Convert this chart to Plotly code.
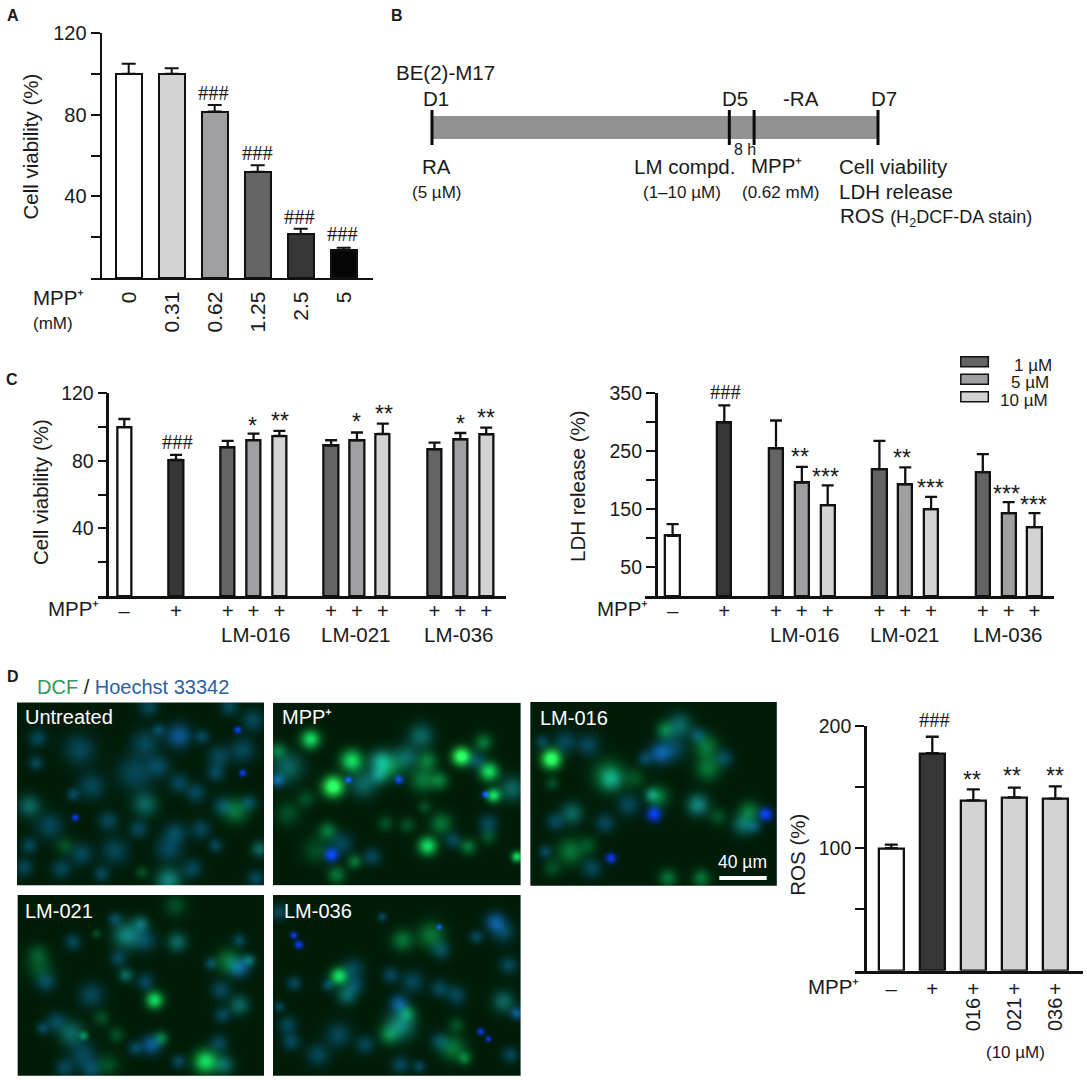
import numpy as np
import plotly.graph_objects as go

W, H = 1087, 1080
FONT = "Liberation Sans"
INK = "#1a1a1a"

# ---------- data ----------
a_labels = ["0", "0.31", "0.62", "1.25", "2.5", "5"]
a_values = [100, 100, 81.5, 52, 21.5, 13.5]
a_errors = [5, 2.7, 3.2, 3.2, 2.6, 1.3]
a_colors = ["#ffffff", "#d3d3d3", "#9f9fa2", "#646464", "#363636", "#050505"]

c_labels = ["–", "+", "+", "+", "+", "+", "+", "+", "+", "+", "+"]
via_values = [100, 80.5, 88, 92.3, 94.8, 89, 92.2, 96, 86.8, 92.7, 95.7]
via_errors = [4.8, 3, 3.8, 3.8, 3, 3.2, 4.6, 6, 4, 3.8, 4]
ldh_values = [104, 300, 255, 196, 157, 219, 193, 150, 214, 143, 119]
ldh_errors = [20, 29, 48, 27, 34, 49, 29, 21, 31, 19, 24]
c_colors = ["#ffffff", "#363636"] + ["#646464", "#9f9fa2", "#d3d3d3"] * 3

ros_labels = ["–", "+", "+", "+", "+"]
ros_values = [100, 177.5, 139, 141.5, 140.5]
ros_errors = [3, 13.5, 9, 8, 10]
ros_colors = ["#ffffff", "#363636", "#d3d3d3", "#d3d3d3", "#d3d3d3"]
ros_compounds = ["016", "021", "036"]

legend_labels = ["1 µM", "5 µM", "10 µM"]
legend_colors = ["#646464", "#9f9fa2", "#d3d3d3"]

timeline_days = [1, 7]
timeline_marks = [1, 5, 5 + 1 / 3, 7]

# micrograph spots: (x, y, radius, kind)
blobs_untreated = [
    (530,228,28,'b+'),(430,250,30,'b'),(235,270,35,'b'),(110,235,20,'b'),(470,210,14,'b'),(600,230,16,'b'),
    (705,210,10,'B'),(720,270,28,'b'),(650,290,25,'b'),(720,340,10,'B'),(640,340,20,'b'),(105,310,16,'b'),
    (400,340,40,'b'),(470,320,25,'b'),(530,370,22,'b'),(270,380,30,'b'),(215,405,14,'b'),(580,400,22,'b'),
    (430,435,28,'t'),(660,440,22,'b'),(700,455,28,'m'),(740,430,18,'b'),(85,440,25,'t'),(222,475,10,'B'),
    (320,485,22,'b'),(145,500,30,'b'),(410,510,20,'b'),(520,520,25,'b'),(595,510,22,'b'),(500,570,30,'b'),
    (640,560,15,'b'),(770,570,18,'t'),(340,575,30,'b'),(240,585,25,'b'),(190,560,20,'dm'),(85,560,18,'b'),
    (70,625,20,'b'),(180,630,22,'b'),(300,645,18,'b'),(420,640,14,'dm'),(500,665,28,'t+'),(570,630,22,'b'),
    (760,660,20,'b'),(440,140,22,'b'),(680,140,20,'b'),(750,180,25,'b'),
]
blobs_mpp = [
    (918,235,24,'g'),(1245,225,28,'t'),(1430,245,20,'m'),(1365,287,26,'G'),(1040,300,28,'g'),(1125,300,25,'t+'),
    (1150,320,30,'m'),(1200,290,28,'t'),(1265,300,22,'m'),(1410,300,20,'b'),(1447,333,24,'g'),(985,378,30,'G'),
    (1030,358,10,'B'),(1180,358,12,'B'),(1075,370,30,'t'),(1250,358,28,'m'),(1300,360,20,'m'),(1120,345,20,'t'),
    (1515,385,28,'t'),(1460,405,18,'g'),(1435,402,10,'B'),(820,270,18,'m'),(850,320,35,'t'),(820,360,15,'b+'),
    (905,415,20,'dm'),(850,460,28,'dm'),(968,512,20,'m'),(935,570,30,'dm'),(980,585,20,'B'),(995,645,20,'m'),
    (1048,605,16,'m'),(1265,558,24,'g'),(1305,490,24,'m'),(1205,495,18,'dm'),(1140,490,18,'dm'),(1255,440,15,'dm'),
    (1385,560,18,'m'),(1445,530,18,'dm'),(1445,490,22,'b'),(1530,590,14,'g'),(1010,550,25,'b'),(1100,590,20,'b'),
    (1340,540,18,'b'),
]
blobs_016 = [
    (78,192,28,'G'),(80,265,15,'dm'),(250,240,35,'m'),(260,255,25,'t'),(405,175,24,'b+'),(465,90,28,'t'),
    (420,105,20,'m'),(445,160,30,'b'),(545,155,28,'m'),(550,220,28,'m'),(600,190,20,'b'),(400,305,25,'m'),
    (380,300,15,'t'),(388,358,22,'B'),(520,330,25,'t+'),(580,365,20,'dm'),(675,350,24,'m'),(655,390,24,'t'),
    (725,358,20,'B'),(690,395,16,'b'),(140,355,25,'t'),(90,380,20,'b'),(240,385,22,'b'),(135,470,30,'m'),
    (190,450,20,'dm'),(258,490,15,'B'),(200,520,22,'b'),(60,470,15,'b'),(80,520,20,'dm'),(430,550,20,'m'),
    (530,550,20,'m'),(310,330,25,'b'),(330,250,24,'dm'),(120,140,25,'b'),(190,150,25,'b'),(50,140,15,'b'),
    (360,190,16,'b'),(520,120,18,'b'),
]
blobs_021 = [
    (375,150,30,'t+'),(418,115,18,'t'),(430,165,25,'b'),(525,170,22,'t'),(110,205,22,'dm'),(115,245,30,'dm'),
    (135,290,22,'b'),(215,170,18,'b'),(678,228,28,'m'),(710,248,22,'b+'),(740,225,14,'t'),(625,235,14,'b'),
    (710,165,15,'b'),(458,345,22,'g'),(372,270,16,'t'),(270,330,28,'b'),(350,220,18,'b'),(430,290,20,'b'),
    (655,315,22,'b'),(710,360,22,'t'),(660,390,18,'b'),(300,400,18,'dm'),(165,410,22,'b'),(125,430,14,'b'),
    (210,445,28,'t'),(248,452,10,'m'),(345,450,18,'dm'),(448,480,22,'b+'),(478,460,16,'m'),(400,490,16,'b'),
    (245,510,30,'b'),(320,540,25,'dm'),(190,550,20,'b'),(270,555,22,'b'),(610,530,30,'g'),(665,540,22,'t'),
    (650,475,20,'b'),(530,530,16,'b'),(520,60,25,'dm'),(340,100,15,'b'),(285,145,10,'dm'),
]
blobs_036 = [
    (868,150,10,'B'),(883,178,12,'B'),(1002,273,22,'g'),(1190,165,24,'m'),(1275,150,30,'m'),(1300,125,8,'B'),
    (1305,195,20,'b'),(1465,110,22,'b+'),(1490,140,25,'b'),(1410,155,15,'b'),(1045,250,24,'b'),(1050,300,20,'b'),
    (1025,330,22,'t'),(970,300,14,'b'),(870,295,16,'b'),(1155,270,18,'b'),(1220,290,25,'b'),(1180,355,20,'b+'),
    (1300,310,20,'b'),(1350,330,22,'b'),(1490,350,25,'t'),(1530,385,14,'b+'),(1505,240,20,'b'),(825,365,12,'b'),
    (1185,420,32,'t+'),(1150,450,22,'m'),(1205,385,18,'m'),(1350,420,18,'dm'),(1422,440,10,'B'),(1445,462,8,'B'),
    (1340,490,28,'m'),(1375,520,15,'m'),(1300,470,20,'b'),(1000,450,28,'b'),(1080,480,20,'b'),(850,420,20,'b'),
    (940,510,25,'b'),(860,470,20,'b'),(1185,540,20,'b'),(1240,545,14,'b'),(1510,510,18,'b'),(1130,95,10,'b'),
    (825,80,18,'b'),
]
blob_rgb = {
    'b': (6, 42, 78), 'b+': (12, 58, 135), 'B': (10, 30, 240), 't': (12, 72, 85), 't+': (18, 100, 112),
    'm': (8, 85, 44), 'dm': (4, 48, 26), 'g': (20, 190, 85), 'G': (45, 255, 95),
}
blob_spread = {'B': 0.7, 'g': 0.8, 'G': 0.72}

# ---------- helpers ----------
fx = lambda p: p / W
fy = lambda p: 1 - (p - 11) / 1069
fig = go.Figure()
annotations, shapes = [], []
layout = {}


def text(px, py, s, size=20.5, anchor="center", color=INK, family=FONT, angle=0):
    annotations.append(dict(x=fx(px), y=fy(py), xref="paper", yref="paper", text=s, showarrow=False,
                            xanchor=anchor, yanchor="middle", textangle=angle,
                            font=dict(size=size, color=color, family=family),
                            borderpad=0, borderwidth=0, align="left"))


def bar_panel(n, slots, values, errors, colors, x0, step, left, right, spine, top, bottom, ymax, major, minor,
              labels, barw, cap, lw=2.3, tick_size=19.5, label_kw=None):
    xa, ya = f"xaxis{n}", f"yaxis{n}"
    fig.add_trace(go.Bar(x=slots, y=values, width=barw, xaxis=f"x{n}", yaxis=f"y{n}",
                         marker=dict(color=colors, line=dict(color="#111111", width=lw)),
                         error_y=dict(type="data", symmetric=False, array=errors, arrayminus=[0] * len(errors),
                                      color="#111111", thickness=lw, width=cap)))
    layout[xa] = dict(domain=[fx(left), fx(right)], anchor=f"y{n}", range=[(left - x0) / step, (right - x0) / step],
                      showgrid=False, zeroline=False, showline=True, linecolor="#111111", linewidth=lw + 0.3,
                      ticks="", tickmode="array", tickvals=slots, ticktext=labels,
                      tickfont=dict(family=FONT, size=tick_size + 1, color=INK), **(label_kw or {}))
    layout[ya] = dict(domain=[fy(bottom), fy(top)], anchor="free", position=fx(spine), range=[0, ymax],
                      showgrid=False, zeroline=False, showline=True, linecolor="#111111", linewidth=lw + 0.3,
                      ticks="outside", ticklen=9, tickwidth=lw, tickcolor="#111111", tickmode="array",
                      tickvals=major, ticktext=[str(t) for t in major],
                      minor=dict(tickmode="array", tickvals=minor, ticks="outside", ticklen=9, tickwidth=lw,
                                 tickcolor="#111111", showgrid=False),
                      tickfont=dict(family=FONT, size=tick_size, color=INK))


def photo(n, blobs, zx0, zx1, zy0, zy1, left, right, top, bottom):
    w, h = int(round(right - left)), int(round(bottom - top))
    X, Y = np.meshgrid(np.linspace(zx0, zx1, w), np.linspace(zy0, zy1, h))
    img = np.zeros((h, w, 3)) + np.array([0, 28, 8], float)
    for bx, by, r, kind in blobs:
        s = blob_spread.get(kind, 0.92) * r
        g = np.exp(-((X - bx) ** 2 + (Y - by) ** 2) / (2 * s ** 2))
        img += g[..., None] * np.array(blob_rgb[kind], float)
    img = np.clip(img, 0, 255).astype(np.uint8)
    fig.add_trace(go.Image(z=img, xaxis=f"x{n}", yaxis=f"y{n}", hoverinfo="skip"))
    layout[f"xaxis{n}"] = dict(domain=[fx(left), fx(right)], range=[-0.5, w - 0.5], visible=False, anchor=f"y{n}")
    layout[f"yaxis{n}"] = dict(domain=[fy(bottom), fy(top)], range=[h - 0.5, -0.5], visible=False, anchor=f"x{n}")


slots_c = [0, 2, 4, 5, 6, 8, 9, 10, 12, 13, 14]

# ---------- panel A ----------
bar_panel(1, list(range(6)), a_values, a_errors, a_colors, 128.7, 43.0, 91, 373, 100.7, 33, 278, 120,
          [40, 80, 120], [20, 60, 100], a_labels, 0.6, 7, lw=2.0, tick_size=20,
          label_kw=dict(tickangle=-90, ticklabelstandoff=3))
text(30.5, 147, "Cell viability (%)", angle=-90)
text(33, 298, "MPP⁺", anchor="left")
text(33, 323, "(mM)", size=17, anchor="left")
for lx, ly in [(213.3, 93), (257, 153), (299, 216.7), (342.7, 234.3)]:
    text(lx, ly, "###", family="Liberation Serif")

# ---------- panel B timeline ----------
fig.add_trace(go.Scatter(x=timeline_days, y=[0, 0], mode="lines", line=dict(color="#929292", width=23),
                         xaxis="x2", yaxis="y2", hoverinfo="skip"))
for d in timeline_marks:
    fig.add_trace(go.Scatter(x=[d, d], y=[-1, 1], mode="lines", line=dict(color="#0a0a0a", width=3),
                             xaxis="x2", yaxis="y2", hoverinfo="skip"))
layout["xaxis2"] = dict(domain=[fx(424.57), fx(885.43)], range=[0.9, 7.1], visible=False, anchor="y2")
layout["yaxis2"] = dict(domain=[fy(145), fy(110)], range=[-1, 1], visible=False, anchor="x2")
text(396, 72, "BE(2)-M17", anchor="left")
text(436, 99, "D1")
text(734.5, 99, "D5")
text(801, 99, "-RA")
text(884, 99, "D7")
text(744.5, 149, "8 h", size=16)
text(436, 166, "RA")
text(436, 193, "(5 µM)", size=17)
text(684, 166, "LM compd.")
text(776, 165, "MPP⁺")
text(681.5, 193, "(1–10 µM)", size=17)
text(780, 193, "(0.62 mM)", size=17)
text(838.5, 166, "Cell viability", anchor="left")
text(838.5, 192, "LDH release", anchor="left")
text(840, 217, "ROS <span style='font-size:18px'>(H<sub>2</sub>DCF-DA stain)</span>", anchor="left")

# ---------- panel C, viability ----------
bar_panel(3, slots_c, via_values, via_errors, c_colors, 124.3, 25.85, 97.5, 505.5, 107.4, 393.3, 596, 120,
          [40, 80, 120], [20, 60, 100], c_labels, 0.55, 6, label_kw=dict(ticklabelstandoff=-5))
text(40.5, 492.5, "Cell viability (%)", angle=-90)
text(48, 608, "MPP⁺", anchor="left")
for cx, name in [(255.5, "LM-016"), (355.7, "LM-021"), (458.7, "LM-036")]:
    text(cx, 634, name)
text(177, 441.7, "###", family="Liberation Serif")
for lx, ly, s in [(252.4, 421, "*"), (280.3, 416, "**"), (356.4, 417, "*"), (383.6, 409.3, "**"),
                  (460, 419, "*"), (485.9, 412.7, "**")]:
    text(lx, ly + 5, s, size=23)

# ---------- panel C, LDH ----------
bar_panel(4, slots_c, ldh_values, ldh_errors, c_colors, 672.6, 25.85, 645, 1053.8, 655.7, 393.3, 596, 350,
          [50, 150, 250, 350], [100, 200, 300], c_labels, 0.55, 6, label_kw=dict(ticklabelstandoff=-5))
text(577, 486, "LDH release (%)", angle=-90)
text(596.8, 608, "MPP⁺", anchor="left")
for cx, name in [(805.2, "LM-016"), (905, "LM-021"), (1008.3, "LM-036")]:
    text(cx, 634, name)
text(725, 392.3, "###", family="Liberation Serif")
for lx, ly, s in [(799.6, 451.7, "**"), (825.8, 471.7, "***"), (902.3, 453.3, "**"), (930.8, 482.7, "***"),
                  (1006, 489, "***"), (1033.5, 500, "***")]:
    text(lx, ly + 5, s, size=23)
for (t, b, rx, ly), lab, col in zip([(356.7, 366.7, 1052, 365), (374.3, 384.3, 1049, 382.5), (391.7, 401.7, 1048, 400.5)],
                                    legend_labels, legend_colors):
    shapes.append(dict(type="rect", xref="paper", yref="paper", x0=fx(960.8), x1=fx(988.3), y0=fy(b), y1=fy(t),
                       fillcolor=col, line=dict(color="#111111", width=1.5)))
    text(rx, ly, lab, size=17, anchor="right")

# ---------- panel D photographs ----------
photo(5, blobs_untreated, 50, 782, 127, 677, 17, 264.4, 702.3, 885.7)
photo(6, blobs_mpp, 808, 1540, 127, 677, 273, 520.6, 702.3, 885.7)
photo(7, blobs_016, 15, 757, 22, 572, 530, 777, 702, 885.7)
photo(8, blobs_021, 50, 782, 30, 572, 17, 264.4, 895, 1075.7)
photo(9, blobs_036, 808, 1540, 30, 572, 273, 520.6, 895, 1075.7)
text(36.5, 687, "<span style='color:#2e9a58'>DCF</span> / <span style='color:#2a5fa5'>Hoechst 33342</span>", anchor="left", size=20)
text(25, 717, "Untreated", color="#ffffff", anchor="left", size=20)
text(281.5, 717, "MPP⁺", color="#ffffff", anchor="left", size=20)
text(540, 717.5, "LM-016", color="#ffffff", anchor="left", size=20)
text(25, 911, "LM-021", color="#ffffff", anchor="left", size=20)
text(284, 911, "LM-036", color="#ffffff", anchor="left", size=20)
text(742, 862, "40 µm", color="#ffffff", size=17.5)
shapes.append(dict(type="rect", xref="paper", yref="paper", x0=fx(719.3), x1=fx(766.7), y0=fy(880), y1=fy(876),
                   fillcolor="#ffffff", line=dict(width=0)))

# ---------- panel D, ROS ----------
bar_panel(10, list(range(5)), ros_values, ros_errors, ros_colors, 891.3, 41.0, 855, 1083, 865, 725.7, 970.7, 200,
          [100, 200], [50, 150], ros_labels, 0.61, 6.5, label_kw=dict(ticklabelstandoff=-2))
text(796.7, 855, "ROS (%)", angle=-90)
text(808, 986, "MPP⁺", anchor="left")
for cx, name in zip([973.3, 1014, 1055], ros_compounds):
    text(cx, 1015, name, angle=-90, size=20)
text(1015, 1052, "(10 µM)", size=17)
text(934, 720, "###", family="Liberation Serif")
for lx, ly in [(972.3, 775), (1012.3, 771), (1054.7, 771)]:
    text(lx, ly + 5, "**", size=23)

# ---------- panel letters ----------
for lx, ly, s in [(7, 16, "A"), (391, 16, "B"), (6, 379, "C"), (7, 676, "D")]:
    text(lx, ly, f"<b>{s}</b>", size=16, anchor="left", family="Liberation Sans")

fig.update_layout(width=W, height=H, autosize=False, margin=dict(l=0, r=0, t=0, b=0), showlegend=False,
                  paper_bgcolor="#ffffff", plot_bgcolor="rgba(0,0,0,0)", annotations=annotations, shapes=shapes,
                  bargap=0, **layout)
fig.write_html("out.html", post_script="document.body.style.margin='0';", config={"displayModeBar": False})
